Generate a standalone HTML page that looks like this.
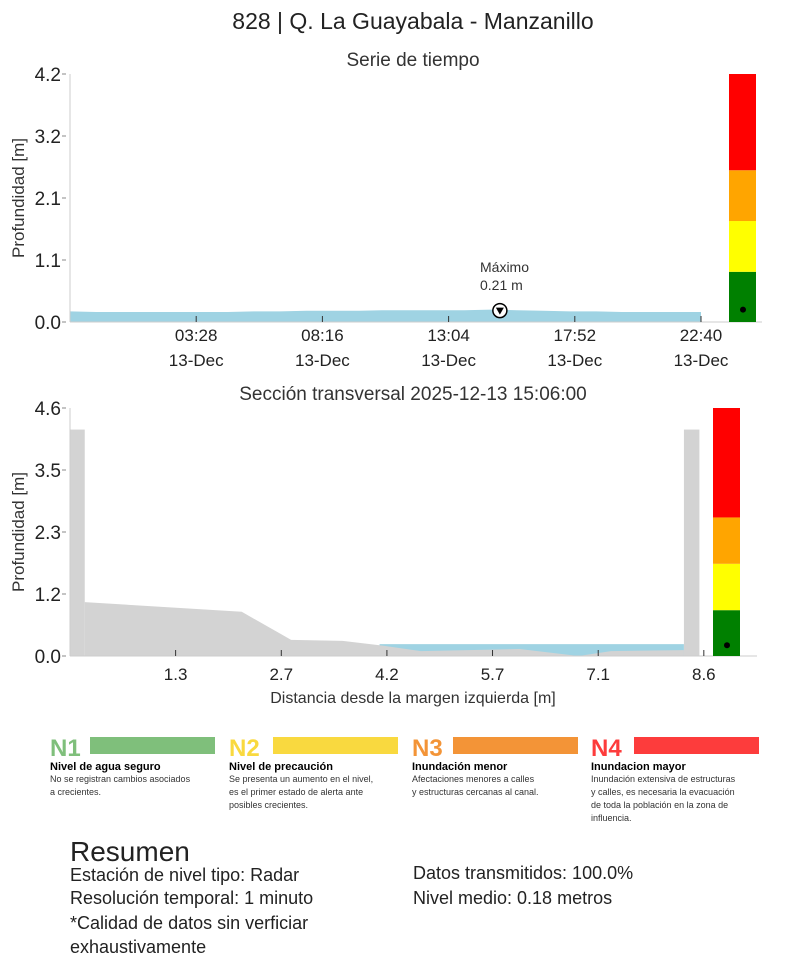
<!DOCTYPE html>
<html><head><meta charset="utf-8"><style>
body{margin:0;background:#fff;font-family:"Liberation Sans",sans-serif;color:#222}
svg text{font-family:"Liberation Sans",sans-serif}
</style></head><body>
<svg id="s" width="809" height="969" xmlns="http://www.w3.org/2000/svg">
<text x="413" y="29" font-size="23" text-anchor="middle" fill="#222">828 | Q. La Guayabala - Manzanillo</text>
<text x="413" y="66" font-size="19" text-anchor="middle" fill="#333">Serie de tiempo</text>
<text x="413" y="400" font-size="19" text-anchor="middle" fill="#333">Sección transversal 2025-12-13 15:06:00</text>
<g id="top"></g><g id="bot"></g>
<g font-size="10">
 <text x="50" y="756" font-size="24" font-weight="bold" fill="#7fbf7b">N1</text>
 <rect x="90" y="737" width="125" height="17" fill="#7fbf7b"/>
 <text x="50" y="770" font-weight="bold" font-size="11">Nivel de agua seguro</text>
 <text x="50" y="782" fill="#333" font-size="9"><tspan x="50">No se registran cambios asociados</tspan><tspan x="50" dy="13">a crecientes.</tspan></text>
 <text x="229" y="756" font-size="24" font-weight="bold" fill="#f9d93f">N2</text>
 <rect x="273" y="737" width="125" height="17" fill="#f9d93f"/>
 <text x="229" y="770" font-weight="bold" font-size="11">Nivel de precaución</text>
 <text x="229" y="782" fill="#333" font-size="9"><tspan x="229">Se presenta un aumento en el nivel,</tspan><tspan x="229" dy="13">es el primer estado de alerta ante</tspan><tspan x="229" dy="13">posibles crecientes.</tspan></text>
 <text x="412" y="756" font-size="24" font-weight="bold" fill="#f39437">N3</text>
 <rect x="453" y="737" width="125" height="17" fill="#f39437"/>
 <text x="412" y="770" font-weight="bold" font-size="11">Inundación menor</text>
 <text x="412" y="782" fill="#333" font-size="9"><tspan x="412">Afectaciones menores a calles</tspan><tspan x="412" dy="13">y estructuras cercanas al canal.</tspan></text>
 <text x="591" y="756" font-size="24" font-weight="bold" fill="#fd3c3c">N4</text>
 <rect x="634" y="737" width="125" height="17" fill="#fd3c3c"/>
 <text x="591" y="770" font-weight="bold" font-size="11">Inundacion mayor</text>
 <text x="591" y="782" fill="#333" font-size="9"><tspan x="591">Inundación extensiva de estructuras</tspan><tspan x="591" dy="13">y calles, es necesaria la evacuación</tspan><tspan x="591" dy="13">de toda la población en la zona de</tspan><tspan x="591" dy="13">influencia.</tspan></text>
</g>
<g fill="#222">
 <text x="70" y="861" font-size="28">Resumen</text>
 <text x="70" y="881" font-size="18">Estación de nivel tipo: Radar</text>
 <text x="70" y="904" font-size="18">Resolución temporal: 1 minuto</text>
 <text x="70" y="929" font-size="18">*Calidad de datos sin verficiar</text>
 <text x="70" y="953" font-size="18">exhaustivamente</text>
 <text x="413" y="879" font-size="18">Datos transmitidos: 100.0%</text>
 <text x="413" y="904" font-size="18">Nivel medio: 0.18 metros</text>
</g>
</svg>
<script>
const NS="http://www.w3.org/2000/svg";
const tsValues=[0.18,0.17,0.17,0.17,0.17,0.17,0.17,0.18,0.18,0.19,0.19,0.19,0.2,0.2,0.2,0.2,0.21,0.2,0.19,0.18,0.18,0.17,0.17,0.17,0.17];
const tsYTicks=[0,1.05,2.1,3.15,4.2];
const tsXTicks=[4.8,9.6,14.4,19.2,24];
const tsXLabels=["03:28","08:16","13:04","17:52","22:40"];
const tsMax={hour:16.35,value:0.21};
const secGround=[[0.2,1.0],[2.33,0.82],[3.0,0.3],[3.7,0.28],[4.2,0.2],[4.76,0.09],[6.1,0.13],[6.9,0.0],[7.34,0.09],[8.33,0.11]];
const secWater=0.22;
const secWalls=[[0,0.2,4.2],[8.33,8.54,4.2]];
const secXTicks=[1.433,2.867,4.3,5.733,7.167,8.6];
const secXLabels=["1.3","2.7","4.2","5.7","7.1","8.6"];
const secYTicks=[0,1.15,2.3,3.45,4.6];
const bandCuts=[0,0.85,1.71,2.57];
function mk(p,t,a,n){const e=document.createElementNS(NS,t);for(const k in a)e.setAttribute(k,a[k]);


p.appendChild(e);return e;}
function colorbar(g,x,y0,y1,max,n,lvl){const sy=v=>y1-v/max*(y1-y0);
const cols=["#008000","#ffff00","#ffa500","#ff0000"];
const cut=bandCuts.concat([max]);
for(let i=0;i<4;i++)mk(g,'rect',{x:x,y:sy(cut[i+1]),width:27,height:sy(cut[i])-sy(cut[i+1]),fill:cols[i]},n+'-band-'+(i+1));
mk(g,'circle',{cx:x+14,cy:sy(lvl),r:3,fill:'#000'},n+'-level-dot');}
function yax(g,ticks,sy,x,lbl,ny){ticks.forEach((t,i)=>{mk(g,'line',{x1:x-4,x2:x,y1:sy(t),y2:sy(t),stroke:'#888'},'y-tick');
const tx=mk(g,'text',{x:x-5,y:sy(t)+7,'font-size':19,'text-anchor':'end',fill:'#222'},'y-tick-label');tx.textContent=(Math.round(t*10)/10).toFixed(1);});
const yt=mk(g,'text',{transform:`translate(24,${ny}) rotate(-90)`,'font-size':17,'text-anchor':'middle',fill:'#333'},'y-axis-title');yt.textContent=lbl;}
// top
const T=document.getElementById('top');
const tx=h=>70+h*(701-70)/24, ty=v=>322-v/4.2*248;
let d=`M${tx(0)},${ty(0)}`;tsValues.forEach((v,i)=>d+=` L${tx(i)},${ty(v)}`);d+=` L${tx(24)},${ty(0)}Z`;
mk(T,'path',{d:d,fill:'#9fd3e3'},'depth-area');
mk(T,'line',{x1:70,x2:70,y1:74,y2:322,stroke:'#ccc'},'y-axis-line');
mk(T,'line',{x1:70,x2:762,y1:322,y2:322,stroke:'#ccc'},'x-axis-line');
yax(T,tsYTicks,ty,66,'Profundidad [m]',198);
tsXTicks.forEach((h,i)=>{mk(T,'line',{x1:tx(h),x2:tx(h),y1:316,y2:322,stroke:'#333'},'x-tick');
const t=mk(T,'text',{x:tx(h),y:341,'font-size':17,'text-anchor':'middle',fill:'#222'},'x-tick-label');t.innerHTML=`<tspan x="${tx(h)}">${tsXLabels[i]}</tspan><tspan x="${tx(h)}" dy="25">13-Dec</tspan>`;});
const mx=tx(tsMax.hour),my=ty(tsMax.value)+1;
mk(T,'circle',{cx:mx,cy:my,r:7,fill:'#fff',stroke:'#000','stroke-width':1.5},'max-marker');
mk(T,'path',{d:`M${mx-4},${my-3} L${mx+4},${my-3} L${mx},${my+4}Z`,fill:'#000'},'max-marker-arrow');
const ml=mk(T,'text',{x:480,y:272,'font-size':14,fill:'#333'},'max-label');ml.innerHTML='<tspan x="480">Máximo</tspan><tspan x="480" dy="18">'+tsMax.value.toFixed(2)+' m</tspan>';
colorbar(T,729,74,322,4.2,'ts-colorbar',0.21);
// bottom
const B=document.getElementById('bot');
const bx=m=>70+m*73.7, by=v=>656-v/4.6*248;
mk(B,'rect',{x:bx(secGround[4][0]),y:by(secWater),width:bx(secGround[9][0])-bx(secGround[4][0]),height:by(0)-by(secWater),fill:'#9fd3e3'},'water-area');
let g=`M${bx(0.2)},${by(0)}`;secGround.forEach(p=>g+=` L${bx(p[0])},${by(p[1])}`);g+=` L${bx(8.33)},${by(0)}Z`;
mk(B,'path',{d:g,fill:'#d3d3d3'},'ground-profile');
secWalls.forEach(w=>mk(B,'rect',{x:bx(w[0]),y:by(w[2]),width:bx(w[1])-bx(w[0]),height:by(0)-by(w[2]),fill:'#d3d3d3'},'channel-wall'));
mk(B,'line',{x1:70,x2:70,y1:408,y2:656,stroke:'#ccc'},'y-axis-line');
mk(B,'line',{x1:70,x2:757,y1:656,y2:656,stroke:'#ccc'},'x-axis-line');
yax(B,secYTicks,by,66,'Profundidad [m]',532);
secXTicks.forEach((m,i)=>{mk(B,'line',{x1:bx(m),x2:bx(m),y1:650,y2:656,stroke:'#333'},'x-tick');
const t=mk(B,'text',{x:bx(m),y:680,'font-size':17,'text-anchor':'middle',fill:'#222'},'x-tick-label');t.textContent=secXLabels[i];});
const xl=mk(B,'text',{x:413,y:703,'font-size':16,'text-anchor':'middle',fill:'#333'},'x-axis-title');xl.textContent='Distancia desde la margen izquierda [m]';
colorbar(B,713,408,656,4.6,'section-colorbar',0.2);
</script>
</body></html>
